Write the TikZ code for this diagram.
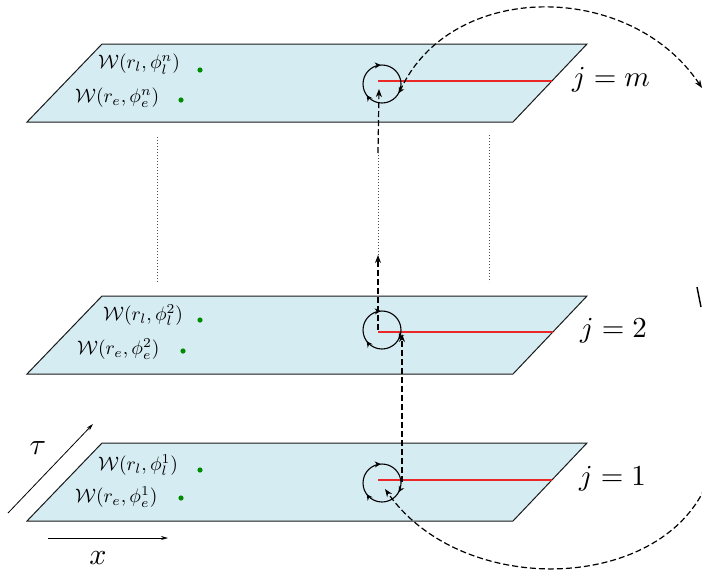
\documentclass[tikz,border=0pt]{standalone}
\usepackage{graphicx}
\usetikzlibrary{arrows.meta,decorations.markings}
\definecolor{planeblue}{RGB}{214,236,243}
\definecolor{dotgreen}{RGB}{0,140,0}
\definecolor{cutred}{RGB}{235,40,40}
\newcommand{\wtxt}[1]{\scalebox{1.95}{$#1$}}
\newcommand{\jtxt}[1]{\scalebox{2.9}{$#1$}}
\newcommand{\atxt}[1]{\scalebox{3}{$#1$}}
\begin{document}
\begin{tikzpicture}[x=1pt,y=-1pt,
  plane/.style={draw=black!90, fill=planeblue, line width=1pt, line join=miter},
  cutline/.style={draw=cutred, line width=1.8pt},
  wlabel/.style={anchor=west, inner sep=0pt},
  jlabel/.style={anchor=west, inner sep=0pt},
  axlabel/.style={inner sep=0pt},
  gdot/.style={fill=dotgreen, draw=none},
  flow/.style={line width=1.2pt, dash pattern=on 6pt off 3pt, -{Stealth[length=8pt,width=6pt]}},
  guide/.style={draw=black!70, line width=0.7pt, dash pattern=on 0.8pt off 2.2pt},
  axis/.style={line width=0.8pt, -{Stealth[length=7pt,width=4pt]}},
  loop/.style={line width=1.1pt, postaction={decorate}, decoration={markings,
    mark=at position 0.08 with {\arrow{Stealth[length=6pt,width=6pt]}},
    mark=at position 0.40 with {\arrow{Stealth[length=6pt,width=6pt]}},
    mark=at position 0.74 with {\arrow{Stealth[length=6pt,width=6pt]}}}}
]
\useasboundingbox (0,0) rectangle (702,574);
\begin{scope}
\clip (0,0) rectangle (702,574);

% planes
\foreach \t in {44,296,443}{
  \draw[plane] (102,\t) -- (587,\t) -- (513,\t+78) -- (27,\t+78) -- cycle;
}

% guides between planes
\draw[guide] (157,137) -- (157,283);
\draw[guide] (489,135) -- (489,282);

% red cuts
\coordinate (rm) at (378,81);  \coordinate (rmE) at (552,81);
\coordinate (r2) at (378,332); \coordinate (r2E) at (553,332);
\coordinate (r1) at (378,480); \coordinate (r1E) at (552,480);
\draw[cutline] (rm) -- (rmE);
\draw[cutline] (r2) -- (r2E);
\draw[cutline] (r1) -- (r1E);

% loops
\coordinate (cm) at (382,84);
\coordinate (c2) at (382,330);
\coordinate (c1) at (382,483);
\draw[loop] (cm) circle [radius=19];
\draw[loop] (c2) circle [radius=19];
\draw[loop] (c1) circle [radius=19];

% vertical connectors
\coordinate (b1) at (402,482);
\coordinate (t2) at (402,334);
\draw[flow] (b1) -- (t2);
\coordinate (s2) at (378,330);
\coordinate (d1) at (378,255);
\coordinate (d2) at (378,153);
\coordinate (tm) at (379,89);
\draw[flow] (s2) -- (d1);
\draw[guide, line width=0.9pt] (d1) -- (d2);
\draw[flow] (d2) -- (tm);

% big return curve
\coordinate (om) at (400,91);
\coordinate (edgeTop) at (702,88);
\draw[flow] (om) .. controls (450,-20) and (630,-20) .. (edgeTop);
\coordinate (edgeBot) at (716,445);
\coordinate (in1) at (385,489);
\draw[flow] (edgeBot) .. controls (705,590) and (470,610) .. (in1);
\draw[line width=1.4pt] (697,287) -- (701,307);

% labels W
\node[wlabel] (lm) at (98,64) {\wtxt{\mathcal{W}(r_l,\phi_l^n)}};
\node[wlabel] (em) at (75,98) {\wtxt{\mathcal{W}(r_e,\phi_e^n)}};
\node[wlabel] (l2) at (103,315) {\wtxt{\mathcal{W}(r_l,\phi_l^2)}};
\node[wlabel] (e2) at (77,349) {\wtxt{\mathcal{W}(r_e,\phi_e^2)}};
\node[wlabel] (l1) at (98,465) {\wtxt{\mathcal{W}(r_l,\phi_l^1)}};
\node[wlabel] (e1) at (75,497) {\wtxt{\mathcal{W}(r_e,\phi_e^1)}};
\fill[gdot] (200,70) circle [radius=2.6];
\fill[gdot] (181,100) circle [radius=2.6];
\fill[gdot] (200,320) circle [radius=2.6];
\fill[gdot] (183,351) circle [radius=2.6];
\fill[gdot] (200,470) circle [radius=2.6];
\fill[gdot] (181,498) circle [radius=2.6];

% j labels
\node[jlabel] (jm) at (572,80) {\jtxt{j=m}};
\node[jlabel] (j2) at (580,331) {\jtxt{j=2}};
\node[jlabel] (j1) at (579,479) {\jtxt{j=1}};

% axes
\coordinate (tau0) at (8,513);
\coordinate (tau1) at (93,424);
\draw[axis] (tau0) -- (tau1);
\node[axlabel] (taul) at (38,448) {\atxt{\tau}};
\coordinate (x0) at (48,538);
\coordinate (x1) at (168,538);
\draw[axis] (x0) -- (x1);
\node[axlabel] (xl) at (98,558) {\atxt{x}};
\end{scope}
\end{tikzpicture}
\end{document}
